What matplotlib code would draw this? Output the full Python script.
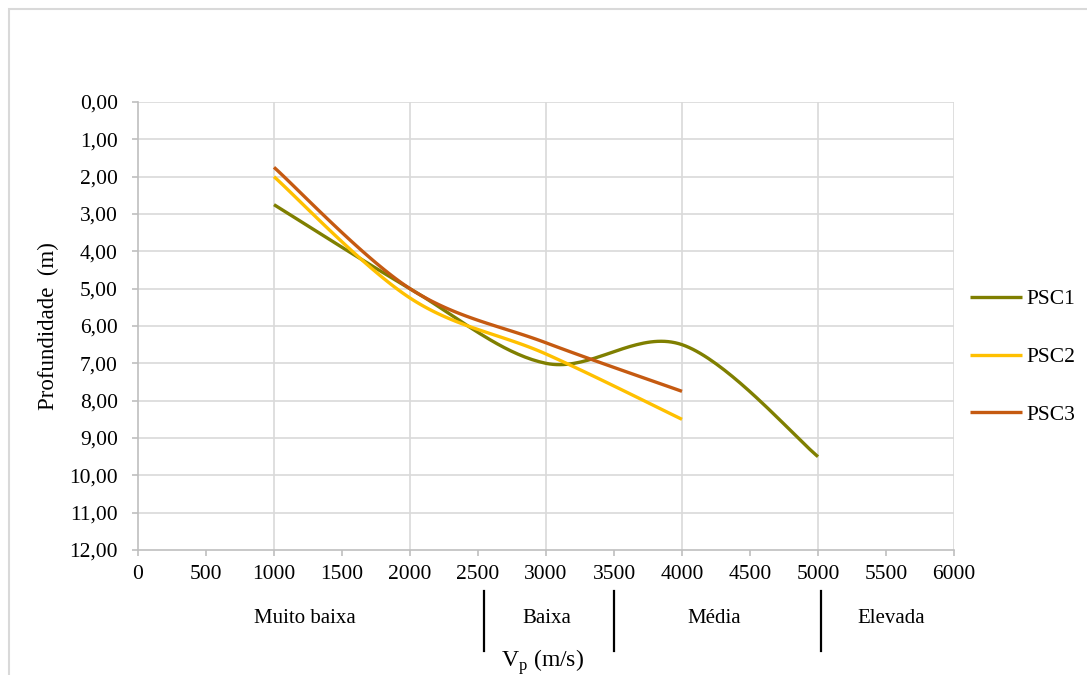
import numpy as np
import matplotlib
matplotlib.use("Agg")
import matplotlib.pyplot as plt
from matplotlib.patches import Rectangle
from matplotlib.transforms import blended_transform_factory

plt.rcParams['font.family'] = ['Liberation Serif', 'DejaVu Serif']

# data
vp = [1000, 2000, 3000, 4000, 5000]
psc1 = [2.75, 5.0, 7.0, 6.5, 9.5]
psc2 = [2.0, 5.25, 6.75, 8.5]
psc3 = [1.75, 5.0, 6.45, 7.75]
series_names = ['PSC1', 'PSC2', 'PSC3']
series_colors = ['#7f7f00', '#ffc000', '#c55a11']

classes = ['Muito baixa', 'Baixa', 'Média', 'Elevada']
class_centers = [1225, 3005, 4235, 5535]
class_bounds = [2545, 3500, 5020]


def smooth(x, y, n=40):
    # excel style smoothed line (bezier through points)
    pts = np.column_stack([x, y]).astype(float)
    ext = np.vstack([pts[0], pts, pts[-1]])
    out = [pts[0]]
    t = np.linspace(0, 1, n)[1:, None]
    for i in range(len(pts) - 1):
        p0, p1, p2, p3 = ext[i], ext[i + 1], ext[i + 2], ext[i + 3]
        c1 = p1 + (p2 - p0) / 6
        c2 = p2 - (p3 - p1) / 6
        seg = (1 - t) ** 3 * p1 + 3 * (1 - t) ** 2 * t * c1 + 3 * (1 - t) * t ** 2 * c2 + t ** 3 * p2
        out.extend(seg)
    out = np.array(out)
    return out[:, 0], out[:, 1]


fig = plt.figure(figsize=(10.87, 6.75), dpi=100)
ax = fig.add_axes([138 / 1087, 1 - 550 / 675, 816 / 1087, 448 / 675])

for vals, name, col in zip([psc1, psc2, psc3], series_names, series_colors):
    sx, sy = smooth(vp[:len(vals)], vals)
    ax.plot(sx, sy, color=col, lw=2.4, label=name, solid_capstyle='butt')

ax.set_xlim(0, 6000)
ax.set_ylim(12, 0)
ax.set_xticks(np.arange(0, 6001, 500))
ax.set_yticks(np.arange(0, 13, 1))
ax.set_yticklabels([('%.2f' % v).replace('.', ',') for v in range(13)])
ax.grid(False)
for gx in range(1000, 6001, 1000):
    ax.axvline(gx, color='#d9d9d9', lw=1.2, zorder=0)
for gy in range(0, 12):
    ax.axhline(gy, color='#d9d9d9', lw=1.2, zorder=0)
for s in ['top', 'right']:
    ax.spines[s].set_visible(False)
for s in ['left', 'bottom']:
    ax.spines[s].set_color('#bfbfbf')
    ax.spines[s].set_linewidth(1.2)
ax.tick_params(axis='both', colors='#bfbfbf', labelcolor='black', width=1.2,
               length=4.5, labelsize=15.5)
ax.tick_params(axis='y', pad=10)
ax.tick_params(axis='x', pad=6)

fig.text(48 / 1087, 1 - 326 / 675, 'Profundidade  (m)', rotation=90,
         ha='center', va='center', fontsize=16.5)
fig.text(543 / 1087, 1 - 662 / 675, r'V$_\mathregular{p}$ (m/s)',
         ha='center', va='center', fontsize=17)

trans = blended_transform_factory(ax.transData, ax.transAxes)
for name, cx in zip(classes, class_centers):
    ax.text(cx, -0.154, name, transform=trans, ha='center', va='center',
            fontsize=15, clip_on=False)
for bx in class_bounds:
    ax.plot([bx, bx], [-0.092, -0.226], transform=trans, color='black',
            lw=1.6, clip_on=False)

leg = ax.legend(loc='center left', bbox_to_anchor=(970 / 1087, 1 - 357 / 675),
                bbox_transform=fig.transFigure, frameon=False, fontsize=15.5,
                handlelength=2.4, handletextpad=0.2, labelspacing=1.75,
                borderpad=0, borderaxespad=0)

fig.patches.append(Rectangle((9 / 1087, -0.05), 1.1, 1.05 - 9 / 675,
                             transform=fig.transFigure, fill=False,
                             edgecolor='#d9d9d9', lw=1.5))

fig.savefig('out.png', dpi=100)
